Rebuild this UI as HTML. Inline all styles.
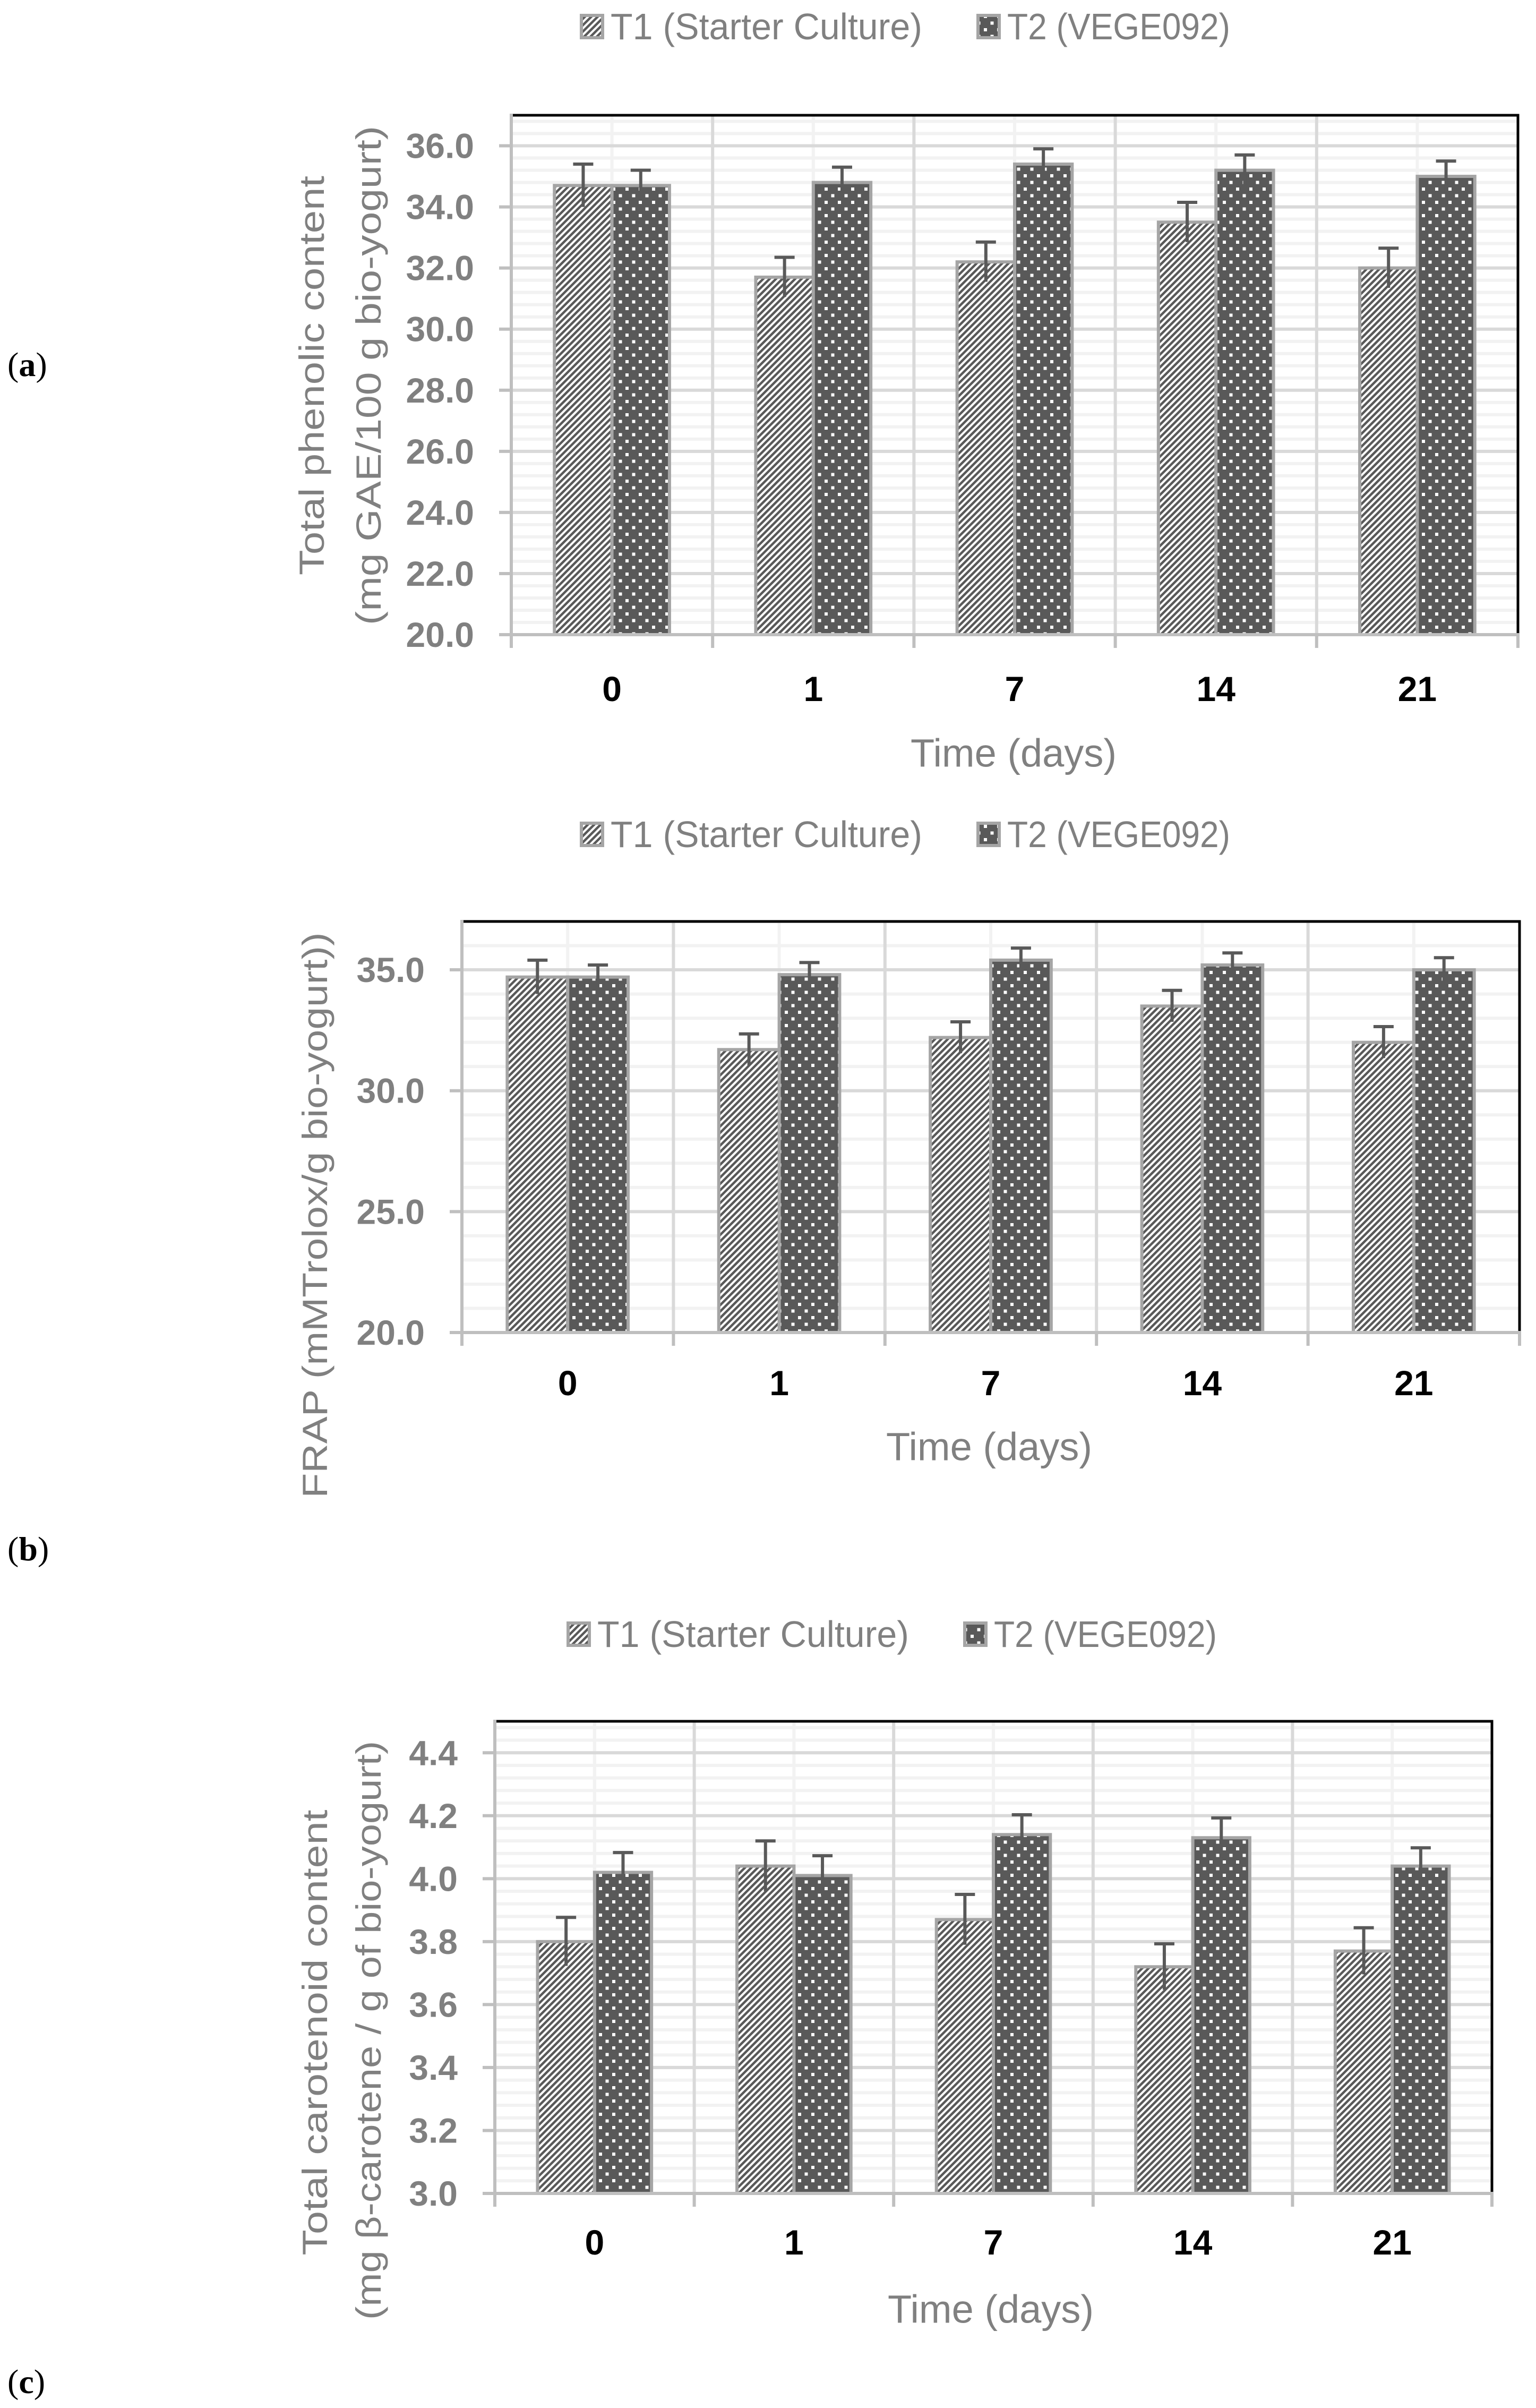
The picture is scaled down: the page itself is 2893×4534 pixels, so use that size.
<!DOCTYPE html>
<html><head><meta charset="utf-8"><style>
html,body{margin:0;padding:0;background:#fff;}
svg{display:block;}
</style></head><body>
<svg id="fig" width="2893" height="4534" viewBox="0 0 2893 4534" xmlns="http://www.w3.org/2000/svg">
<defs>
<pattern id="hatch" patternUnits="userSpaceOnUse" width="8.5" height="8.5" patternTransform="rotate(45)">
<rect width="8.5" height="8.5" fill="#fff"/><rect width="4.5" height="8.5" fill="#595959"/>
</pattern>
<pattern id="dots" patternUnits="userSpaceOnUse" width="25" height="25">
<rect width="25" height="25" fill="#595959"/><rect x="3" y="3" width="6" height="6" fill="#fff"/><rect x="15.5" y="15.5" width="6" height="6" fill="#fff"/>
</pattern>
</defs>
<g id="root"></g>
</svg>
<script>
const categories = ["0", "1", "7", "14", "21"];
const aT1 = [34.7, 31.7, 32.2, 33.5, 32.0];
const aT2 = [34.7, 34.8, 35.4, 35.2, 35.0];
const aT1Err = [0.7, 0.65, 0.65, 0.65, 0.65];
const aT2Err = [0.5, 0.5, 0.5, 0.5, 0.5];
const aTicks = [20, 22, 24, 26, 28, 30, 32, 34, 36];
const bT1 = [34.7, 31.7, 32.2, 33.5, 32.0];
const bT2 = [34.7, 34.8, 35.4, 35.2, 35.0];
const bT1Err = [0.7, 0.65, 0.65, 0.65, 0.65];
const bT2Err = [0.5, 0.5, 0.5, 0.5, 0.5];
const bTicks = [20, 25, 30, 35];
const cT1 = [3.80, 4.04, 3.87, 3.72, 3.77];
const cT2 = [4.02, 4.01, 4.14, 4.13, 4.04];
const cT1Err = [0.077, 0.08, 0.08, 0.073, 0.074];
const cT2Err = [0.063, 0.063, 0.063, 0.063, 0.058];
const cTicks = [3.0, 3.2, 3.4, 3.6, 3.8, 4.0, 4.2, 4.4];

const NS = "http://www.w3.org/2000/svg";
const root = document.getElementById("root");
function mk(tag, attrs, parent) {
  const e = document.createElementNS(NS, tag);
  for (const k in attrs) e.setAttribute(k, attrs[k]);
  (parent || root).appendChild(e);
  return e;
}
const NARROW = '"Liberation Sans Narrow", "Liberation Sans", sans-serif';

function chart(cfg) {
  const g = mk("g", {});
  
  
  const L = cfg.left, R = cfg.right, T = cfg.top, B = cfg.bottom;
  const y = v => B - (v - cfg.min) / (cfg.max - cfg.min) * (B - T);
  const cw = (R - L) / categories.length;
  const cx = i => L + cw * (i + 0.5);
  const bw = cw / 3.5;
  for (let v = cfg.min + cfg.minor; v < cfg.max + 1e-9; v += cfg.minor) {
    const ln = mk("line", {x1: L, x2: R, y1: y(v), y2: y(v), stroke: "#f2f2f2", "stroke-width": 6}, g);
    
    
  }
  categories.forEach((c, i) => {
    const ln = mk("line", {x1: cx(i), x2: cx(i), y1: T, y2: B, stroke: "#f2f2f2", "stroke-width": 6}, g);
    
    
  });
  cfg.ticks.forEach(v => {
    if (v === cfg.min) return;
    const ln = mk("line", {x1: L, x2: R, y1: y(v), y2: y(v), stroke: "#d9d9d9", "stroke-width": 6}, g);
    
    
  });
  for (let i = 1; i < categories.length; i++) {
    const ln = mk("line", {x1: L + cw * i, x2: L + cw * i, y1: T, y2: B, stroke: "#d9d9d9", "stroke-width": 6}, g);
    
    
  }
  const fr = mk("path", {d: `M${L} ${T} H${R} V${B}`, fill: "none", stroke: "#000", "stroke-width": 5}, g);
  
  
  categories.forEach((c, i) => {
    [[cfg.t1, cfg.t1e, "url(#hatch)", -1, "bar-t1-"], [cfg.t2, cfg.t2e, "url(#dots)", 0, "bar-t2-"]].forEach(s => {
      const v = s[0][i], x0 = cx(i) + s[3] * bw;
      const r = mk("rect", {x: x0, y: y(v), width: bw, height: B - y(v), fill: s[2], stroke: "#a5a5a5", "stroke-width": 6}, g);
      
      
      const ex = x0 + bw / 2, e = s[1][i];
      const eb = mk("path", {d: `M${ex} ${y(v - e)} V${y(v + e)} M${ex - 19} ${y(v + e)} H${ex + 19}`, stroke: "#595959", "stroke-width": 6, fill: "none"}, g);
      
      
    });
  });
  const ya = mk("line", {x1: L, x2: L, y1: T - 3, y2: B, stroke: "#bfbfbf", "stroke-width": 6}, g);
  
  
  const xa = mk("line", {x1: L, x2: R + 3, y1: B, y2: B, stroke: "#bfbfbf", "stroke-width": 6}, g);
  
  
  for (let i = 0; i <= categories.length; i++) {
    const t = mk("line", {x1: L + cw * i, x2: L + cw * i, y1: B, y2: B + 25, stroke: "#bfbfbf", "stroke-width": 6}, g);
    
    
  }
  cfg.ticks.forEach(v => {
    const t = mk("line", {x1: L - 23, x2: L, y1: y(v), y2: y(v), stroke: "#bfbfbf", "stroke-width": 6}, g);
    
    
    const tx = mk("text", {x: L - 70, y: y(v), "text-anchor": "end", "dominant-baseline": "central", fill: "#808080", "font-family": NARROW, "font-weight": "bold", "font-size": 66}, g);
    tx.textContent = v.toFixed(1);
    
    
  });
  categories.forEach((c, i) => {
    const tx = mk("text", {x: cx(i), y: cfg.xlabY, "text-anchor": "middle", "dominant-baseline": "central", fill: "#000", "font-family": NARROW, "font-weight": "bold", "font-size": 66}, g);
    tx.textContent = c;
    
    
  });
  const xt = mk("text", {x: cfg.xtX, y: cfg.xtY, "text-anchor": "middle", "dominant-baseline": "central", fill: "#808080", "font-family": NARROW, "font-size": 74, textLength: 388, lengthAdjust: "spacingAndGlyphs"}, g);
  xt.textContent = "Time (days)";
  
  
  cfg.ytitle.forEach(l => {
    const t = mk("text", {x: 0, y: 0, transform: `translate(${l[1]},${l[2]}) rotate(-90)`, "text-anchor": "middle", "dominant-baseline": "central", fill: "#808080", "font-family": '"Liberation Sans", "DejaVu Sans", sans-serif', "font-size": 66, textLength: l[3], lengthAdjust: "spacingAndGlyphs"}, g);
    t.textContent = l[0];
    
    
  });
  const lg = mk("g", {}, g);
  
  
  const ly = cfg.legY, lx = cfg.legX;
  [[0, "url(#hatch)", "T1 (Starter Culture)", 587, "legend-entry-t1"], [747, "url(#dots)", "T2 (VEGE092)", 420, "legend-entry-t2"]].forEach(e => {
    const b = mk("rect", {x: lx + e[0], y: ly - 21, width: 40, height: 42, fill: e[1], stroke: "#a5a5a5", "stroke-width": 6}, lg);
    
    
    const t = mk("text", {x: lx + e[0] + 55, y: ly, "dominant-baseline": "central", fill: "#808080", "font-family": NARROW, "font-size": 70, textLength: e[3], lengthAdjust: "spacingAndGlyphs"}, lg);
    t.textContent = e[2];
    
    
  });
  const pl = mk("text", {x: 14, y: cfg.panelY, "dominant-baseline": "central", fill: "#000", "font-family": '"Liberation Serif", serif', "font-size": 64}, g);
  pl.innerHTML = '(<tspan font-weight="bold">' + cfg.panel + '</tspan>)';
  
  
}

chart({name: "chart-a-total-phenolic", left: 963, right: 2859, top: 217, bottom: 1195, min: 20, max: 37, minor: 0.4,
  ticks: aTicks, t1: aT1, t2: aT2, t1e: aT1Err, t2e: aT2Err, xlabY: 1297, xtX: 1909, xtY: 1418,
  ytitle: [["Total phenolic content", 587, 707, 752], ["(mg GAE/100 g  bio-yogurt)", 694, 707, 940]],
  legX: 1095, legY: 50, panel: "a", panelY: 686});
chart({name: "chart-b-frap", left: 870, right: 2862, top: 1735, bottom: 2509, min: 20, max: 37, minor: 1,
  ticks: bTicks, t1: bT1, t2: bT2, t1e: bT1Err, t2e: bT2Err, xlabY: 2604, xtX: 1863, xtY: 2724,
  ytitle: [["FRAP (mMTrolox/g bio-yogurt))", 593, 2288, 1065]],
  legX: 1095, legY: 1571, panel: "b", panelY: 2916});
chart({name: "chart-c-carotenoid", left: 932, right: 2810, top: 3241, bottom: 4130, min: 3.0, max: 4.5, minor: 0.04,
  ticks: cTicks, t1: cT1, t2: cT2, t1e: cT1Err, t2e: cT2Err, xlabY: 4222, xtX: 1866, xtY: 4348,
  ytitle: [["Total carotenoid content", 593, 3827, 839], ["(mg β-carotene / g of bio-yogurt)", 694, 3823, 1090]],
  legX: 1070, legY: 3077, panel: "c", panelY: 4484});
</script>
</body></html>
